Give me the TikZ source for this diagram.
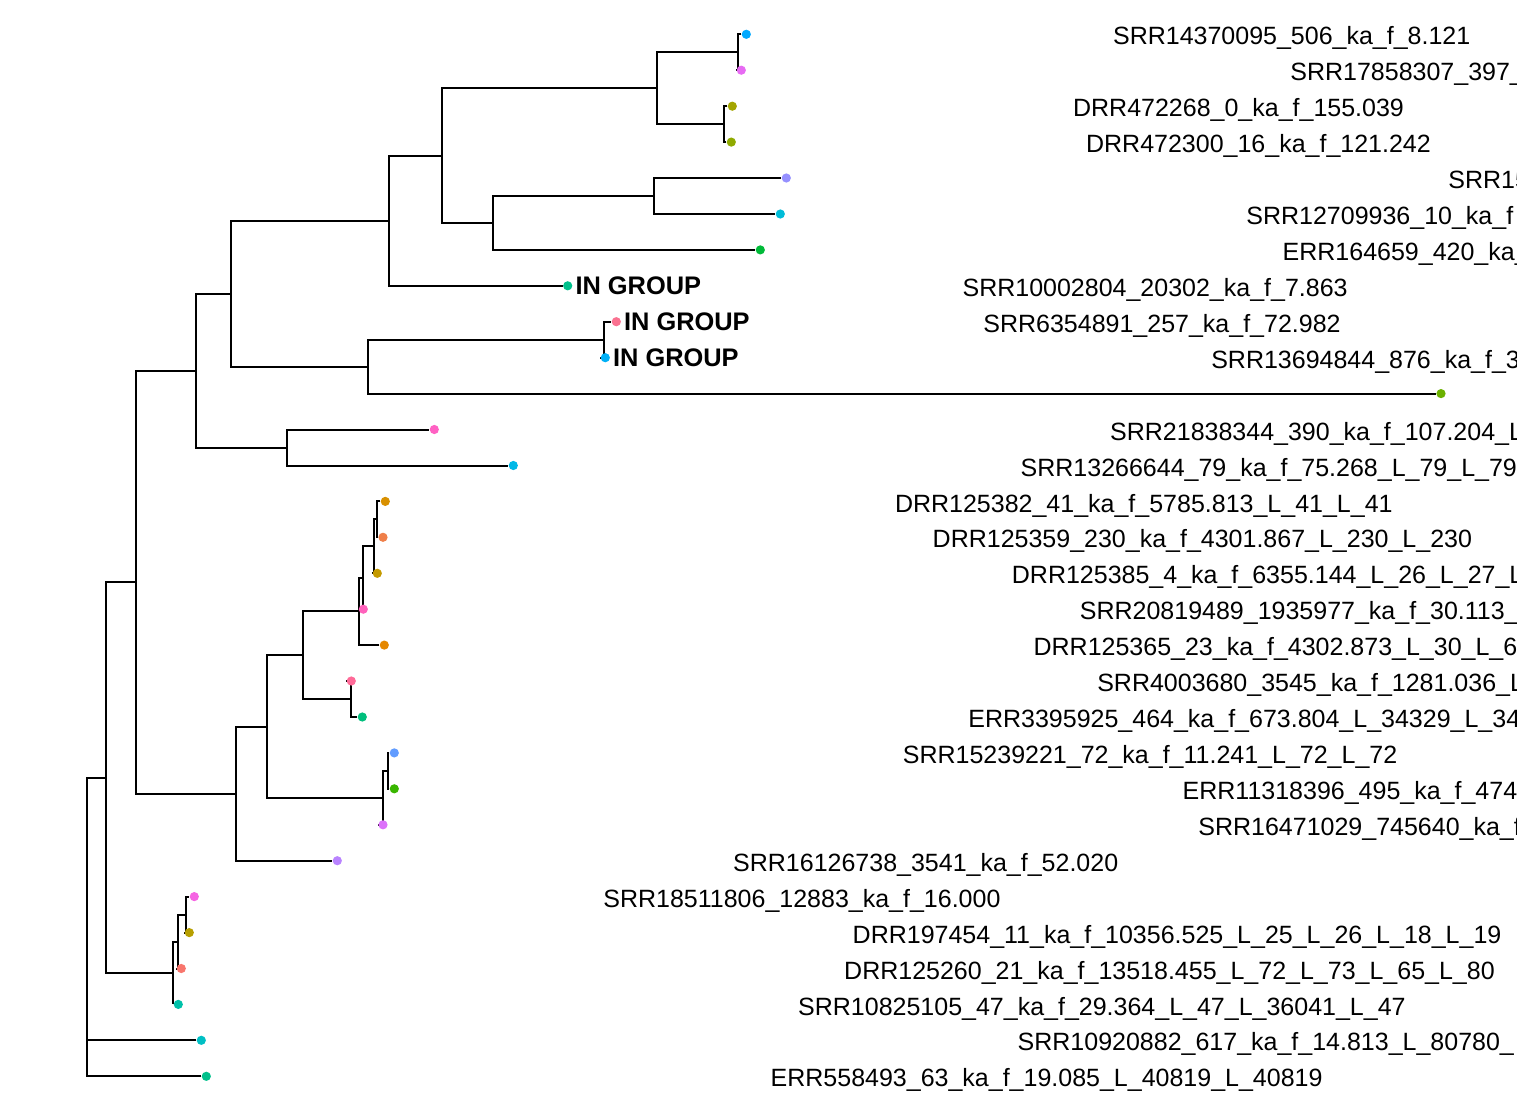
\documentclass[tikz,border=0pt]{standalone}
\usepackage{fontspec}
\setmainfont{Liberation Sans}
\usepackage{tikz}
\usetikzlibrary{positioning}

\definecolor{c01}{HTML}{00A9FF}
\definecolor{c02}{HTML}{E76BF3}
\definecolor{c03}{HTML}{A3A500}
\definecolor{c04}{HTML}{8FAA00}
\definecolor{c05}{HTML}{9590FF}
\definecolor{c06}{HTML}{00BCD8}
\definecolor{c07}{HTML}{00BA38}
\definecolor{c08}{HTML}{00C08B}
\definecolor{c09}{HTML}{FA7190}
\definecolor{c10}{HTML}{00B0F6}
\definecolor{c11}{HTML}{6BB100}
\definecolor{c12}{HTML}{FF61C3}
\definecolor{c13}{HTML}{00B8E7}
\definecolor{c14}{HTML}{D89000}
\definecolor{c15}{HTML}{EF7F49}
\definecolor{c16}{HTML}{C49A00}
\definecolor{c17}{HTML}{FF62BC}
\definecolor{c18}{HTML}{E58700}
\definecolor{c19}{HTML}{FF6A98}
\definecolor{c20}{HTML}{00BF7D}
\definecolor{c21}{HTML}{619CFF}
\definecolor{c22}{HTML}{39B600}
\definecolor{c23}{HTML}{DC71FA}
\definecolor{c24}{HTML}{B983FF}
\definecolor{c25}{HTML}{F564E3}
\definecolor{c26}{HTML}{B79F00}
\definecolor{c27}{HTML}{F8766D}
\definecolor{c28}{HTML}{00C1A9}
\definecolor{c29}{HTML}{00BFC4}
\definecolor{c30}{HTML}{00C08B}

\pgfdeclarelayer{bg}
\pgfsetlayers{bg,main}

\begin{document}
\begin{tikzpicture}[x=0.5pt, y=-0.5pt,
        branch/.style={line width=1pt, black},
        tipdot/.style={circle, inner sep=0pt, minimum size=4.6pt},
        tiplab/.style={anchor=base west, inner sep=0pt, yshift=-5.33pt, font=\fontsize{12.5pt}{15pt}\selectfont},
        ingroup/.style={inner sep=0pt, font=\fontsize{12.7pt}{15pt}\selectfont\bfseries}]
        \useasboundingbox (0,0) rectangle (1529,1117);

        % tips
        \node at (746.3,   34.3) [tipdot, fill=c01] (SRR14370095){};
        \node at (741.3,   70.2) [tipdot, fill=c02] (SRR17858307){};
        \node at (732.3,  106.2) [tipdot, fill=c03] (DRR472268){};
        \node at (731.3,  142.1) [tipdot, fill=c04] (DRR472300){};
        \node at (786.3,  178.0) [tipdot, fill=c05] (SRR15){};
        \node at (780.3,  214.0) [tipdot, fill=c06] (SRR12709936){};
        \node at (760.3,  249.9) [tipdot, fill=c07] (ERR164659){};
        \node at (567.7,  285.8) [tipdot, fill=c08] (SRR10002804){};
        \node at (616.3,  321.7) [tipdot, fill=c09] (SRR6354891){};
        \node at (605.3,  357.7) [tipdot, fill=c10] (SRR13694844){};
        \node at (1441.0, 393.6) [tipdot, fill=c11] (longtip){};
        \node at (434.3,  429.5) [tipdot, fill=c12] (SRR21838344){};
        \node at (513.3,  465.5) [tipdot, fill=c13] (SRR13266644){};
        \node at (385.3,  501.4) [tipdot, fill=c14] (DRR125382){};
        \node at (383.0,  537.3) [tipdot, fill=c15] (DRR125359){};
        \node at (377.3,  573.3) [tipdot, fill=c16] (DRR125385){};
        \node at (363.3,  609.2) [tipdot, fill=c17] (SRR20819489){};
        \node at (384.3,  645.1) [tipdot, fill=c18] (DRR125365){};
        \node at (351.3,  681.0) [tipdot, fill=c19] (SRR4003680){};
        \node at (362.3,  717.0) [tipdot, fill=c20] (ERR3395925){};
        \node at (394.3,  752.9) [tipdot, fill=c21] (SRR15239221){};
        \node at (394.3,  788.8) [tipdot, fill=c22] (ERR11318396){};
        \node at (383.0,  824.8) [tipdot, fill=c23] (SRR16471029){};
        \node at (337.3,  860.7) [tipdot, fill=c24] (SRR16126738){};
        \node at (194.3,  896.6) [tipdot, fill=c25] (SRR18511806){};
        \node at (189.3,  932.6) [tipdot, fill=c26] (DRR197454){};
        \node at (181.3,  968.5) [tipdot, fill=c27] (DRR125260){};
        \node at (178.3, 1004.4) [tipdot, fill=c28] (SRR10825105){};
        \node at (201.3, 1040.3) [tipdot, fill=c29] (SRR10920882){};
        \node at (206.3, 1076.3) [tipdot, fill=c30] (ERR558493){};

        % inner nodes
        \coordinate (n_root) at (87.0, 964.7);
        \coordinate (n_A)  at (105.7, 777.5);
        \coordinate (n_B)  at (136.0, 582.1);
        \coordinate (n_D)  at (196.0, 370.6);
        \coordinate (n_O)  at (230.7, 293.7);
        \coordinate (n_Q)  at (389.0, 220.7);
        \coordinate (n_S)  at (441.7, 155.6);
        \coordinate (n_T)  at (656.7,  88.2);
        \coordinate (n_V)  at (737.7,  52.25);
        \coordinate (n_W)  at (723.7, 124.15);
        \coordinate (n_U)  at (493.0, 222.95);
        \coordinate (n_X)  at (654.0, 196.0);
        \coordinate (n_R)  at (368.0, 366.65);
        \coordinate (n_Y)  at (604.3, 339.7);
        \coordinate (n_P)  at (286.7, 447.5);
        \coordinate (n_E)  at (235.7, 793.6);
        \coordinate (n_F)  at (266.7, 726.5);
        \coordinate (n_G)  at (302.7, 655.2);
        \coordinate (n_I)  at (358.7, 611.4);
        \coordinate (n_K)  at (362.7, 577.75);
        \coordinate (n_L)  at (373.7, 546.3);
        \coordinate (n_M)  at (376.7, 519.35);
        \coordinate (n_J)  at (350.7, 699.0);
        \coordinate (n_H)  at (382.7, 797.8);
        \coordinate (n_N)  at (388.0, 770.85);
        \coordinate (n_C)  at (173.3, 973.0);
        \coordinate (n_C1) at (177.5, 941.55);
        \coordinate (n_C2) at (186.0, 914.6);

        \begin{pgfonlayer}{bg}
        \draw[branch]
                (n_root) |- (n_A)   (n_root) |- (SRR10920882)   (n_root) |- (ERR558493)
                (n_A) |- (n_B)      (n_A) |- (n_C)
                (n_B) |- (n_D)      (n_B) |- (n_E)
                (n_D) |- (n_O)      (n_D) |- (n_P)
                (n_O) |- (n_Q)      (n_O) |- (n_R)
                (n_Q) |- (n_S)      (n_Q) |- (SRR10002804)
                (n_S) |- (n_T)      (n_S) |- (n_U)
                (n_T) |- (n_V)      (n_T) |- (n_W)
                (n_V) |- (SRR14370095)  (n_V) |- (SRR17858307)
                (n_W) |- (DRR472268)    (n_W) |- (DRR472300)
                (n_U) |- (n_X)      (n_U) |- (ERR164659)
                (n_X) |- (SRR15)    (n_X) |- (SRR12709936)
                (n_R) |- (n_Y)      (n_R) |- (longtip)
                (n_Y) |- (SRR6354891)   (n_Y) |- (SRR13694844)
                (n_P) |- (SRR21838344)  (n_P) |- (SRR13266644)
                (n_E) |- (n_F)      (n_E) |- (SRR16126738)
                (n_F) |- (n_G)      (n_F) |- (n_H)
                (n_G) |- (n_I)      (n_G) |- (n_J)
                (n_I) |- (n_K)      (n_I) |- (DRR125365)
                (n_K) |- (n_L)      (n_K) |- (SRR20819489)
                (n_L) |- (n_M)      (n_L) |- (DRR125385)
                (n_M) |- (DRR125382)    (n_M) |- (DRR125359)
                (n_J) |- (SRR4003680)   (n_J) |- (ERR3395925)
                (n_H) |- (n_N)      (n_H) |- (SRR16471029)
                (n_N) |- (SRR15239221)  (n_N) |- (ERR11318396)
                (n_C) |- (n_C1)     (n_C) |- (SRR10825105)
                (n_C1) |- (n_C2)    (n_C1) |- (DRR125260)
                (n_C2) |- (SRR18511806) (n_C2) |- (DRR197454)
            ;
        \end{pgfonlayer}

        % in group labels
        \node[ingroup, right=1.2pt of SRR10002804] (ig_SRR10002804) {IN GROUP};
        \node[ingroup, right=1.2pt of SRR6354891]  (ig_SRR6354891)  {IN GROUP};
        \node[ingroup, right=1.2pt of SRR13694844] (ig_SRR13694844) {IN GROUP};

        % tip labels, cut at the panel edge
        \begin{scope}
        \clip (0,0) rectangle (1516.5,1117);
        \node at (1112.7,   34.3) [tiplab] (lab_SRR14370095){SRR14370095\_506\_ka\_f\_8.121};
        \node at (1290.0,   70.2) [tiplab] (lab_SRR17858307){SRR17858307\_397\_};
        \node at (1072.7,  106.2) [tiplab] (lab_DRR472268)  {DRR472268\_0\_ka\_f\_155.039};
        \node at (1085.7,  142.1) [tiplab] (lab_DRR472300)  {DRR472300\_16\_ka\_f\_121.242};
        \node at (1448.0,  178.0) [tiplab] (lab_SRR15)      {SRR15};
        \node at (1246.0,  214.0) [tiplab] (lab_SRR12709936){SRR12709936\_10\_ka\_f};
        \node at (1282.3,  249.9) [tiplab] (lab_ERR164659)  {ERR164659\_420\_ka\_};
        \node at (962.2,   285.8) [tiplab] (lab_SRR10002804){SRR10002804\_20302\_ka\_f\_7.863};
        \node at (983.0,   321.7) [tiplab] (lab_SRR6354891) {SRR6354891\_257\_ka\_f\_72.982};
        \node at (1210.9,  357.7) [tiplab] (lab_SRR13694844){SRR13694844\_876\_ka\_f\_3};
        \node at (1109.8,  429.5) [tiplab] (lab_SRR21838344){SRR21838344\_390\_ka\_f\_107.204\_L};
        \node at (1020.3,  465.5) [tiplab] (lab_SRR13266644){SRR13266644\_79\_ka\_f\_75.268\_L\_79\_L\_79};
        \node at (894.6,   501.4) [tiplab] (lab_DRR125382)  {DRR125382\_41\_ka\_f\_5785.813\_L\_41\_L\_41};
        \node at (932.3,   537.3) [tiplab] (lab_DRR125359)  {DRR125359\_230\_ka\_f\_4301.867\_L\_230\_L\_230};
        \node at (1011.5,  573.3) [tiplab] (lab_DRR125385)  {DRR125385\_4\_ka\_f\_6355.144\_L\_26\_L\_27\_L};
        \node at (1079.5,  609.2) [tiplab] (lab_SRR20819489){SRR20819489\_1935977\_ka\_f\_30.113\_};
        \node at (1033.2,  645.1) [tiplab] (lab_DRR125365)  {DRR125365\_23\_ka\_f\_4302.873\_L\_30\_L\_6};
        \node at (1096.9,  681.0) [tiplab] (lab_SRR4003680) {SRR4003680\_3545\_ka\_f\_1281.036\_L};
        \node at (968.0,   717.0) [tiplab] (lab_ERR3395925) {ERR3395925\_464\_ka\_f\_673.804\_L\_34329\_L\_34};
        \node at (902.5,   752.9) [tiplab] (lab_SRR15239221){SRR15239221\_72\_ka\_f\_11.241\_L\_72\_L\_72};
        \node at (1182.3,  788.8) [tiplab] (lab_ERR11318396){ERR11318396\_495\_ka\_f\_474};
        \node at (1198.0,  824.8) [tiplab] (lab_SRR16471029){SRR16471029\_745640\_ka\_f};
        \node at (732.8,   860.7) [tiplab] (lab_SRR16126738){SRR16126738\_3541\_ka\_f\_52.020};
        \node at (603.0,   896.6) [tiplab] (lab_SRR18511806){SRR18511806\_12883\_ka\_f\_16.000};
        \node at (852.3,   932.6) [tiplab] (lab_DRR197454)  {DRR197454\_11\_ka\_f\_10356.525\_L\_25\_L\_26\_L\_18\_L\_19};
        \node at (843.8,   968.5) [tiplab] (lab_DRR125260)  {DRR125260\_21\_ka\_f\_13518.455\_L\_72\_L\_73\_L\_65\_L\_80};
        \node at (797.8,  1004.4) [tiplab] (lab_SRR10825105){SRR10825105\_47\_ka\_f\_29.364\_L\_47\_L\_36041\_L\_47};
        \node at (1017.3, 1040.3) [tiplab] (lab_SRR10920882){SRR10920882\_617\_ka\_f\_14.813\_L\_80780\_};
        \node at (770.3,  1076.3) [tiplab] (lab_ERR558493)  {ERR558493\_63\_ka\_f\_19.085\_L\_40819\_L\_40819};
        \end{scope}

    \end{tikzpicture}
\end{document}
